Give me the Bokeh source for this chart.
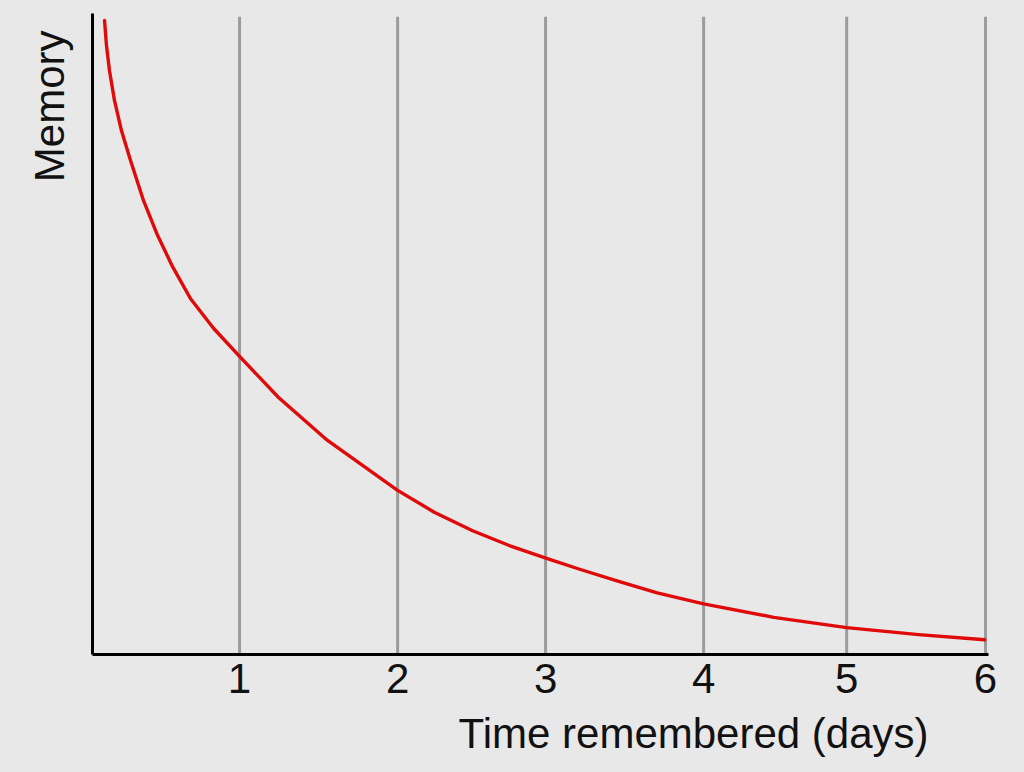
from bokeh.plotting import figure
from bokeh.models import FixedTicker, Range1d, Title
from bokeh.embed import file_html
from bokeh.resources import INLINE

# ---- data ----
# forgetting curve: time (days) vs memory (arbitrary units, 0..100)
curve_days = [0.081, 0.094, 0.114, 0.148, 0.195, 0.255, 0.343, 0.437, 0.538,
              0.659, 0.813, 0.988, 1.250, 1.579, 2.050, 2.296, 2.554, 2.800,
              3.051, 3.273, 3.535, 3.794, 4.106, 4.577, 5.067, 5.551, 5.995]
curve_memory = [98.9, 95.0, 91.1, 86.4, 81.7, 77.1, 70.8, 65.4, 60.5,
                55.5, 50.9, 46.5, 40.1, 33.4, 25.6, 22.2, 19.3, 17.0,
                15.0, 13.3, 11.4, 9.6, 7.9, 5.8, 4.2, 3.1, 2.3]

# vertical reference lines / tick marks (as drawn in the picture)
tick_days = [0.988, 2.050, 3.044, 4.106, 5.067, 6.0]
tick_labels = ["1", "2", "3", "4", "5", "6"]
grid_top = [99.5] * len(tick_days)
grid_bottom = [0.0] * len(tick_days)

x_title = "Time remembered (days)"
y_title = "Memory"

BG = "#e8e8e8"
FONT = "Liberation Sans"
TXT = "#111111"

p = figure(width=1024, height=772, output_backend="svg", toolbar_location=None,
           x_range=Range1d(0, 6.02), y_range=Range1d(0, 100),
           min_border_left=92, min_border_right=36, min_border_top=13,
           min_border_bottom=118)
p.background_fill_color = BG
p.border_fill_color = BG
p.outline_line_color = None
p.xgrid.visible = False
p.ygrid.visible = False

# axes
p.xaxis.ticker = FixedTicker(ticks=tick_days)
p.xaxis.major_label_overrides = {t: l for t, l in zip(tick_days, tick_labels)}
p.xaxis.major_label_text_font = FONT
p.xaxis.major_label_text_font_size = "42px"
p.xaxis.major_label_text_color = TXT
p.xaxis.major_label_standoff = 9
p.xaxis.major_tick_line_color = None
p.xaxis.minor_tick_line_color = None
p.xaxis.major_tick_out = 0
p.xaxis.axis_line_color = "#000000"
p.xaxis.axis_line_width = 3

p.yaxis.ticker = FixedTicker(ticks=[])
p.yaxis.major_tick_line_color = None
p.yaxis.minor_tick_line_color = None
p.yaxis.major_tick_out = 0
p.yaxis.major_label_standoff = 0
p.yaxis.axis_line_color = "#000000"
p.yaxis.axis_line_width = 3

# vertical gray lines
p.segment(x0=tick_days, y0=grid_bottom, x1=tick_days, y1=grid_top,
          line_color="#9c9c9c", line_width=3)

# the curve
p.line(curve_days, curve_memory, line_color="#e00a0a", line_width=3.4,
       line_join="round", line_cap="round")

# axis titles
p.add_layout(Title(text=x_title, align="right", offset=60, standoff=24,
                   text_font=FONT, text_font_size="42px",
                   text_font_style="normal", text_color=TXT), "below")
p.add_layout(Title(text=y_title, align="right", offset=17, standoff=40,
                   text_font=FONT, text_font_size="42px",
                   text_font_style="normal", text_color=TXT), "left")

html = file_html(p, INLINE)
html = html.replace("</head>",
                    "<style>html,body{background-color:%s !important;}</style></head>" % BG, 1)
open("out.html", "w").write(html)
